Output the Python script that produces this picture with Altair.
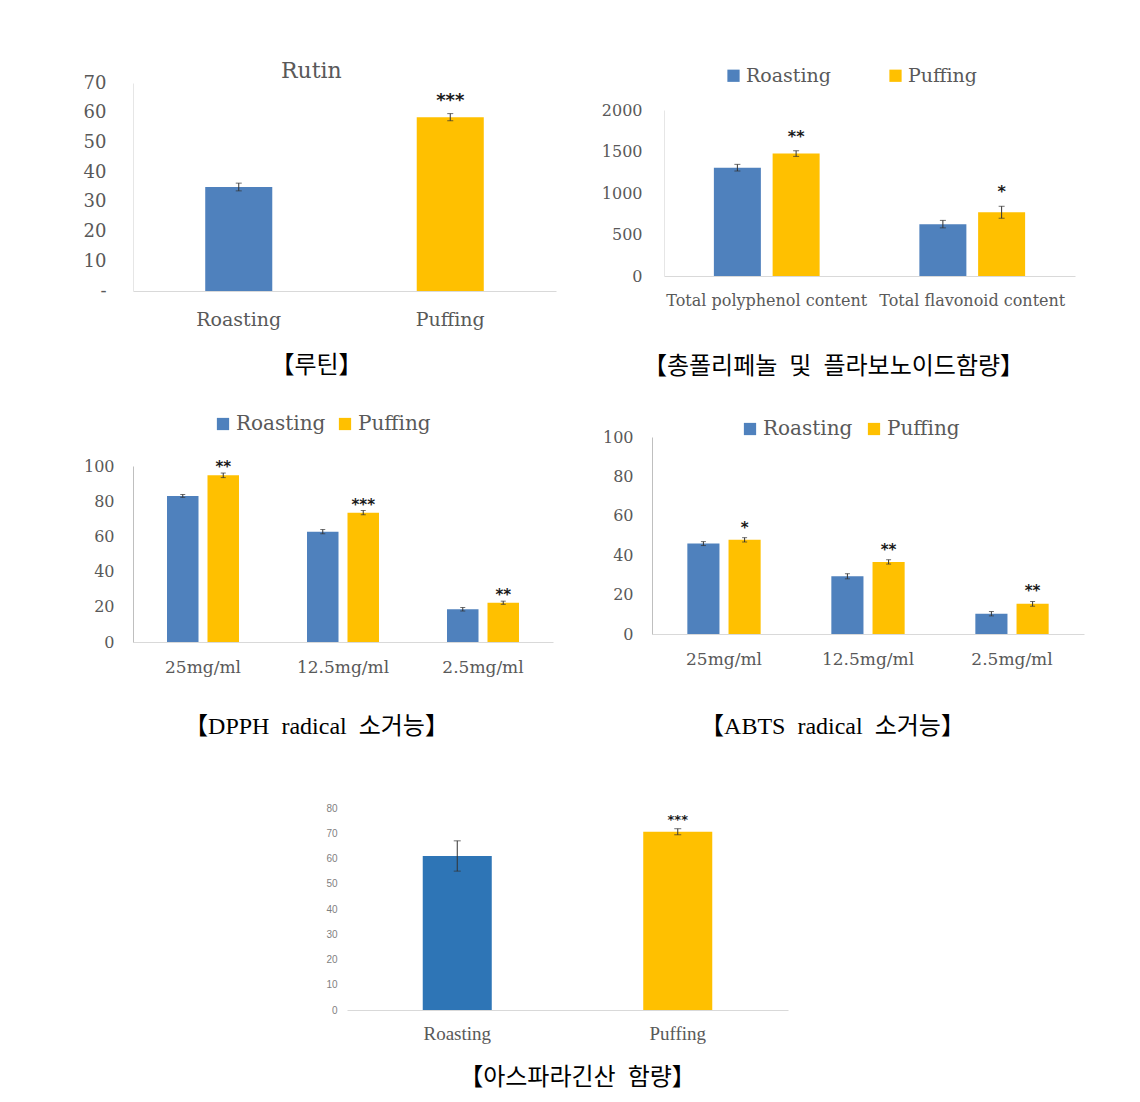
import altair as alt
import pandas as pd

# ---------------- data ----------------
groups = ["Roasting", "Puffing"]

rutin_cats = ["Roasting", "Puffing"]
rutin_mean = [35.0, 58.5]
rutin_err = [1.3, 1.2]
rutin_sig = ["", "***"]
rutin_ticks = [0, 10, 20, 30, 40, 50, 60, 70]

phenol_cats = ["Total polyphenol content", "Total flavonoid content"]
phenol_roast = [1305, 625]
phenol_roast_err = [40, 45]
phenol_puff = [1475, 768]
phenol_puff_err = [34, 72]
phenol_sig = ["**", "*"]
phenol_ticks = [0, 500, 1000, 1500, 2000]

conc_cats = ["25mg/ml", "12.5mg/ml", "2.5mg/ml"]
dpph_roast = [83.0, 62.7, 18.6]
dpph_roast_err = [0.8, 1.2, 1.0]
dpph_puff = [94.7, 73.5, 22.3]
dpph_puff_err = [1.3, 1.2, 0.9]
dpph_sig = ["**", "***", "**"]

abts_roast = [45.9, 29.3, 10.3]
abts_roast_err = [1.0, 1.3, 1.1]
abts_puff = [47.8, 36.6, 15.3]
abts_puff_err = [1.1, 1.1, 1.2]
abts_sig = ["*", "**", "**"]
pct_ticks = [0, 20, 40, 60, 80, 100]

asp_cats = ["Roasting", "Puffing"]
asp_mean = [61.0, 70.6]
asp_err = [6.0, 1.2]
asp_sig = ["", "***"]
asp_ticks = [0, 10, 20, 30, 40, 50, 60, 70, 80]

captions = [
    "【루틴】",
    "【총폴리페놀 \u00a0및 \u00a0플라보노이드함량】",
    "【DPPH \u00a0radical \u00a0소거능】",
    "【ABTS \u00a0radical \u00a0소거능】",
    "【아스파라긴산 \u00a0함량】",
]

# ---------------- styles ----------------
BLUE = "#4F81BD"
BLUE_DARK = "#2E75B6"
YELLOW = "#FFC000"
GRAY = "#595959"
ERR = "#333333"
SERIF = "DejaVu Serif"
CAP_FONT = "Liberation Serif, Noto Sans CJK KR"


def rows_simple(cats, mean, err, sig):
    return pd.DataFrame({
        "cat": cats, "group": cats, "value": mean,
        "lo": [m - e for m, e in zip(mean, err)],
        "hi": [m + e for m, e in zip(mean, err)],
        "sig": sig,
    })


def rows_grouped(cats, r, re, p, pe, sig):
    recs = []
    for i, c in enumerate(cats):
        recs.append({"cat": c, "group": "Roasting", "value": r[i],
                     "lo": r[i] - re[i], "hi": r[i] + re[i], "sig": ""})
        recs.append({"cat": c, "group": "Puffing", "value": p[i],
                     "lo": p[i] - pe[i], "hi": p[i] + pe[i], "sig": sig[i]})
    return pd.DataFrame(recs)


def legend(lx, ly, size, cp):
    return alt.Legend(orient="none", legendX=lx, legendY=ly, direction="horizontal",
                      title=None, symbolType="square", symbolSize=150, symbolStrokeWidth=0,
                      labelFont=SERIF, labelFontSize=size, labelColor=GRAY,
                      columnPadding=cp, labelOffset=3, padding=0)


def panel(df, cats, s):
    xaxis = alt.Axis(orient="bottom", offset=s["x_off"], ticks=False, tickSize=0,
                     labelPadding=s["xlabpad"], labelBaseline="middle", labelAngle=0,
                     labelFont=s["xfont"], labelFontSize=s["xlabsize"], labelColor=GRAY,
                     labelLimit=500, domainColor="#D9D9D9", domainWidth=1, grid=False,
                     titleX=s["cap_x"], titleY=s["cap_y"], titleBaseline="middle",
                     titleAlign="center", titleFont=CAP_FONT, titleFontSize=24,
                     titleFontWeight="normal", titleColor="#000000")
    X = alt.X("cat:N", sort=cats, title=s["caption"],
              scale=alt.Scale(range=s["xr"], paddingInner=s["pi"], paddingOuter=s["po"]),
              axis=xaxis)
    ykw = dict(orient="left", offset=s["y_off"], values=s["yticks"], ticks=False, tickSize=0,
               grid=False, labelPadding=s["ylabpad"], labelFont=s["yfont"],
               labelFontSize=s["ylabsize"], labelColor=s["ylabcolor"], domain=s["ydomain_on"],
               domainColor=s["ydomcolor"], labelLimit=200, format="d")
    if s.get("dash_zero"):
        ykw["labelExpr"] = "datum.value == 0 ? '-' : datum.label"
    yaxis = alt.Axis(**ykw)
    yscale = alt.Scale(domain=s["ydom"], range=s["yr"], nice=False, zero=True)

    def Y(f):
        return alt.Y(f + ":Q", title=None, scale=yscale, axis=yaxis)

    enc = {"x": X}
    if s["grouped"]:
        enc["xOffset"] = alt.XOffset("group:N", sort=groups,
                                     scale=alt.Scale(paddingInner=s["bpi"], paddingOuter=s["bpo"]))
    base = alt.Chart(df).encode(**enc)
    color = alt.Color("group:N", scale=alt.Scale(domain=groups, range=s["colors"]),
                      legend=s.get("legend"))
    bars = base.mark_bar().encode(y=Y("value"), color=color)
    rule = base.mark_rule(color=ERR, strokeWidth=1).encode(y=Y("lo"), y2="hi:Q")
    tlo = base.mark_tick(color=ERR, size=s["capw"], thickness=1).encode(y=Y("lo"))
    thi = base.mark_tick(color=ERR, size=s["capw"], thickness=1).encode(y=Y("hi"))
    stars = base.mark_text(font="DejaVu Sans", fontWeight="bold", fontSize=s["star_size"],
                           baseline="alphabetic", dy=s["star_dy"], color="#1a1a1a").encode(
        y=Y("hi"), text="sig:N")
    ch = alt.layer(bars, rule, tlo, thi, stars).properties(width=s["w"], height=s["h"])
    if "title" in s:
        ch = ch.properties(title=s["title"])
    return ch


p1 = panel(rows_simple(rutin_cats, rutin_mean, rutin_err, rutin_sig), rutin_cats, dict(
    w=570, h=380, xr=[133, 556], pi=0.683, po=0.3415, grouped=False,
    yr=[291, 83], ydom=[0, 70], yticks=rutin_ticks, y_off=-133, x_off=-89,
    ylabpad=27, ylabsize=18, yfont=SERIF, ylabcolor=GRAY, ydomain_on=True, ydomcolor="#E6E6E6",
    xlabpad=28, xlabsize=19, xfont=SERIF, caption=captions[0], cap_x=316, cap_y=74,
    colors=[BLUE, YELLOW], legend=None, capw=6, star_size=18, star_dy=-8, dash_zero=True,
    title=alt.TitleParams(text="Rutin", anchor="start", frame="group", dx=281, dy=100, offset=0,
                          baseline="alphabetic", font=SERIF, fontSize=22, fontWeight="normal",
                          color=GRAY),
))

p2 = panel(rows_grouped(phenol_cats, phenol_roast, phenol_roast_err, phenol_puff,
                        phenol_puff_err, phenol_sig), phenol_cats, dict(
    w=570, h=380, xr=[94, 505], pi=0, po=0, grouped=True, bpi=0.2, bpo=0.849,
    yr=[276, 110], ydom=[0, 2000], yticks=phenol_ticks, y_off=-94, x_off=-104,
    ylabpad=22, ylabsize=16, yfont=SERIF, ylabcolor=GRAY, ydomain_on=True, ydomcolor="#E6E6E6",
    xlabpad=24, xlabsize=16, xfont=SERIF, caption=captions[1], cap_x=263, cap_y=90,
    colors=[BLUE, YELLOW], legend=legend(154, 66, 19, 55), capw=6, star_size=16, star_dy=-9,
))

p3 = panel(rows_grouped(conc_cats, dpph_roast, dpph_roast_err, dpph_puff, dpph_puff_err,
                        dpph_sig), conc_cats, dict(
    w=570, h=370, xr=[133, 553], pi=0, po=0, grouped=True, bpi=0.222, bpo=0.84,
    yr=[262, 86], ydom=[0, 100], yticks=pct_ticks, y_off=-133, x_off=-108,
    ylabpad=19, ylabsize=16, yfont=SERIF, ylabcolor=GRAY, ydomain_on=True, ydomcolor="#BFBFBF",
    xlabpad=25, xlabsize=17, xfont=SERIF, caption=captions[2], cap_x=316, cap_y=84,
    colors=[BLUE, YELLOW], legend=legend(213, 34, 20, 9), capw=5, star_size=15, star_dy=-1,
))

p4 = panel(rows_grouped(conc_cats, abts_roast, abts_roast_err, abts_puff, abts_puff_err,
                        abts_sig), conc_cats, dict(
    w=570, h=370, xr=[82, 514], pi=0, po=0, grouped=True, bpi=0.22, bpo=0.858,
    yr=[254, 57], ydom=[0, 100], yticks=pct_ticks, y_off=-82, x_off=-116,
    ylabpad=19, ylabsize=16, yfont=SERIF, ylabcolor=GRAY, ydomain_on=True, ydomcolor="#BFBFBF",
    xlabpad=25, xlabsize=17, xfont=SERIF, caption=captions[3], cap_x=262, cap_y=92,
    colors=[BLUE, YELLOW], legend=legend(170, 39, 20, 11), capw=5, star_size=15, star_dy=-5,
))

p5 = panel(rows_simple(asp_cats, asp_mean, asp_err, asp_sig), asp_cats, dict(
    w=1140, h=352, xr=[347, 788], pi=0.687, po=0.3435, grouped=False,
    yr=[260, 58], ydom=[0, 80], yticks=asp_ticks, y_off=-347, x_off=-92,
    ylabpad=10, ylabsize=10, yfont="Liberation Sans", ylabcolor="#7F7F7F", ydomain_on=False,
    ydomcolor="#D9D9D9",
    xlabpad=23, xlabsize=19, xfont="Liberation Serif", caption=captions[4], cap_x=577, cap_y=67,
    colors=[BLUE_DARK, YELLOW], legend=None, capw=7, star_size=13, star_dy=-5,
))

row1 = alt.hconcat(p1, p2, spacing=0, bounds="flush").resolve_scale(
    color="independent", xOffset="independent").resolve_legend(color="independent")
row2 = alt.hconcat(p3, p4, spacing=0, bounds="flush").resolve_scale(
    color="independent", xOffset="independent").resolve_legend(color="independent")

chart = alt.vconcat(row1, row2, p5, spacing=0).resolve_scale(
    color="independent", xOffset="independent").resolve_legend(color="independent").properties(
    padding=0, background="white").configure_view(strokeWidth=0, fill="white")

chart.save("out.html", embed_options={"renderer": "svg", "actions": False})
